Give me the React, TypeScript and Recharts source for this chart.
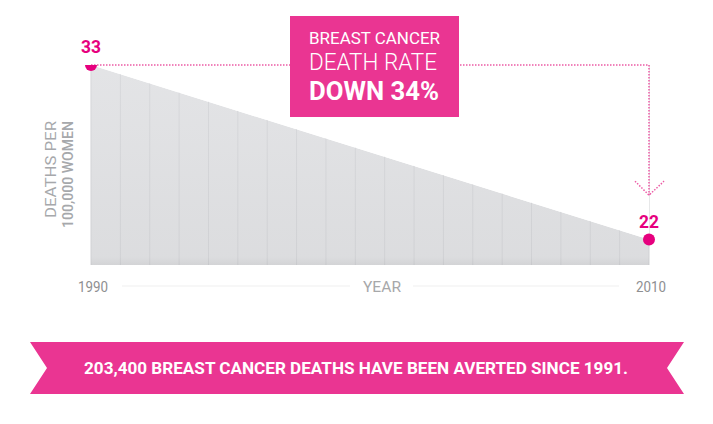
import React from 'react'
import {
  ComposedChart, Area, Line, XAxis, YAxis, CartesianGrid,
  ReferenceLine, ReferenceDot,
} from 'recharts'

const YEARS = [1990, 2010]
const DEATH_RATE = [33, 22]
const YEAR_TICKS = [1990, 2010]
const GRID_COLUMNS = 19
const Y_DOMAIN: [number, number] = [20.4, 33]
const ARROW_TIP = 24.8

const data = YEARS.map((year, i) => ({ year, rate: DEATH_RATE[i] }))

const PINK = '#e6007e'
const BOX_PINK = '#ea3592'
const DOTTED = '#ec5ba5'
const FONT = 'Roboto, "DejaVu Sans", sans-serif'

// evenly spaced column rules across the plot area
function gridColumns({ offset }: any) {
  const out: number[] = []
  for (let i = 0; i <= GRID_COLUMNS; i++) out.push(offset.left + (offset.width * i) / GRID_COLUMNS)
  return out
}

function YearTick({ x, y, payload }: any) {
  return (
    <text x={x + 2} y={y + 27} textAnchor="middle" fill="#8e8f91" fontSize={15}
      fontFamily={FONT} textLength={30} lengthAdjust="spacingAndGlyphs">
      {payload.value}
    </text>
  )
}

function YearTitle({ viewBox }: any) {
  const { x, y, width } = viewBox
  const cx = x + width / 2 + 12
  const ly = y + 21
  return (
    <g>
      <line x1={x + 31} x2={cx - 32} y1={ly} y2={ly} stroke="#efefef" />
      <line x1={cx + 31} x2={x + width - 30} y1={ly} y2={ly} stroke="#efefef" />
      <text x={cx} y={y + 27} textAnchor="middle" fill="#a7a8aa" fontSize={15}
        fontFamily={FONT} textLength={38} lengthAdjust="spacingAndGlyphs">YEAR</text>
    </g>
  )
}

function RateTitle({ viewBox }: any) {
  const { x, y } = viewBox
  const ey = y + 56
  const b1 = x + 25
  const b2 = x + 42
  return (
    <g fill="#a6a8ab" fontFamily={FONT} fontSize={15}>
      <text x={b1} y={ey} textAnchor="end" transform={`rotate(-90 ${b1} ${ey})`}
        textLength={97} lengthAdjust="spacingAndGlyphs">DEATHS PER</text>
      <text x={b2} y={ey} textAnchor="end" fontWeight={500} transform={`rotate(-90 ${b2} ${ey})`}
        textLength={107} lengthAdjust="spacingAndGlyphs">100,000 WOMEN</text>
    </g>
  )
}

function ValueLabel({ x, y, value }: any) {
  return (
    <text x={x} y={y - 12} textAnchor="middle" fill={PINK} fontSize={18} fontWeight="bold"
      fontFamily={FONT} textLength={20} lengthAdjust="spacingAndGlyphs">
      {value}
    </text>
  )
}

function ArrowHead({ cx, cy }: any) {
  return (
    <path d={`M${cx - 14},${cy - 14} L${cx},${cy} L${cx + 15},${cy - 14}`}
      fill="none" stroke={DOTTED} strokeWidth={1.5} strokeDasharray="1.5 1.5" />
  )
}

export default function App() {
  return (
    <div style={{ position: 'absolute', left: 0, top: 0, width: 713, height: 424, background: '#fff' }}>
      <ComposedChart width={713} height={424} data={data}
        margin={{ top: 65, right: 64, bottom: 129, left: 31 }}>
        <defs>
          <linearGradient id="areaFill" x1="0" y1="0" x2="0" y2="1">
            <stop offset="0%" stopColor="#dadbde" />
            <stop offset="96%" stopColor="#d0d1d4" />
            <stop offset="100%" stopColor="#c4c5c8" />
          </linearGradient>
        </defs>
        <CartesianGrid horizontal={false} stroke="#d0d1d4"
          verticalCoordinatesGenerator={gridColumns} />
        <XAxis dataKey="year" type="number" domain={[1990, 2010]} ticks={YEAR_TICKS}
          axisLine={false} tickLine={false} tickSize={0} tickMargin={0} height={30}
          tick={<YearTick />} label={<YearTitle />} />
        <YAxis type="number" domain={Y_DOMAIN} allowDataOverflow width={60}
          tick={false} axisLine={false} tickLine={false} label={<RateTitle />} />
        <Area dataKey="rate" fill="url(#areaFill)" fillOpacity={0.75} stroke="none"
          isAnimationActive={false} />
        <Area dataKey="rate" baseValue="dataMax" fill="#ffffff" fillOpacity={1} stroke="none"
          isAnimationActive={false} />
        <ReferenceLine segment={[{ x: 1990, y: 33 }, { x: 2010, y: 33 }]}
          stroke={DOTTED} strokeWidth={1.5} strokeDasharray="1.5 1.5" />
        <ReferenceLine segment={[{ x: 2010, y: 33 }, { x: 2010, y: ARROW_TIP }]}
          stroke={DOTTED} strokeWidth={1.5} strokeDasharray="1.5 1.5" />
        <ReferenceDot x={2010} y={ARROW_TIP} shape={<ArrowHead />} />
        <Line dataKey="rate" stroke="none" dot={{ r: 6, fill: PINK, stroke: 'none' }}
          activeDot={false} label={<ValueLabel />} isAnimationActive={false} />
      </ComposedChart>
      <svg width={713} height={424} style={{ position: 'absolute', left: 0, top: 0, pointerEvents: 'none' }}
        fontFamily={FONT}>
        <rect x={290} y={16} width={169} height={101} fill={BOX_PINK} />
        <text x={309} y={44} fill="#fff" fontSize={16.5} textLength={131} lengthAdjust="spacingAndGlyphs">
          BREAST CANCER
        </text>
        <text x={309} y={70} fill="#fff" fontSize={23.5} fontWeight={300} textLength={128} lengthAdjust="spacingAndGlyphs">
          DEATH RATE
        </text>
        <text x={309} y={100} fill="#fff" fontSize={25} fontWeight="bold" textLength={130} lengthAdjust="spacingAndGlyphs">
          DOWN 34%
        </text>
        <polygon points="30,342 684,342 667,368 684,394 30,394 47,368" fill={BOX_PINK} />
        <text x={84} y={374} fill="#fff" fontSize={16} fontWeight="bold" textLength={544} lengthAdjust="spacingAndGlyphs">
          203,400 BREAST CANCER DEATHS HAVE BEEN AVERTED SINCE 1991.
        </text>
      </svg>
    </div>
  )
}
